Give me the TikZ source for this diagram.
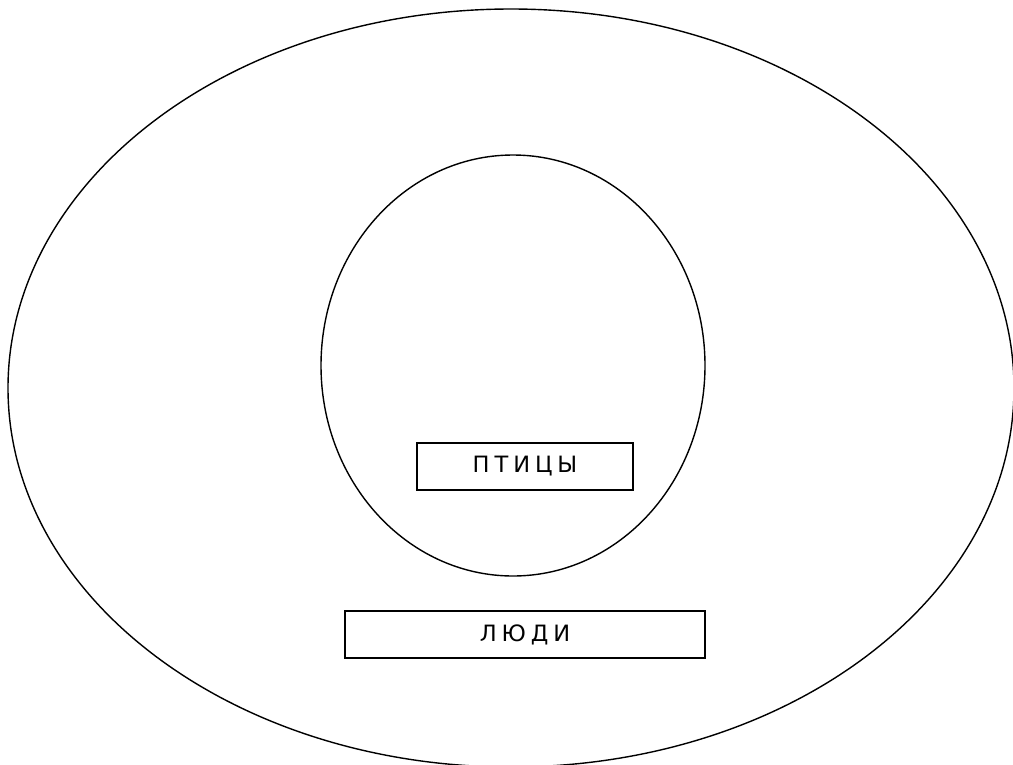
\documentclass[tikz,border=0pt]{standalone}
\usepackage{fontspec}
\setmainfont{DejaVu Sans}
\begin{document}
\begin{tikzpicture}[x=1pt,y=-1pt,
  ring/.style={draw=black,line width=1.4pt},
  label box/.style={draw=black,line width=1.4pt,minimum height=47pt,inner sep=0pt,
    font=\fontsize{22.5}{26}\selectfont\addfontfeature{LetterSpace=22}}]
\useasboundingbox (0,0) rectangle (1013,764);
\draw[ring] (511,388) ellipse [x radius=503, y radius=379];
\draw[ring] (513,365.5) ellipse [x radius=192, y radius=210.5];
\node[label box,minimum width=216pt] (birds) at (525,466.5) {ПТИЦЫ};
\node[label box,minimum width=360pt] (people) at (525,634.5) {ЛЮДИ};
\end{tikzpicture}
\end{document}
